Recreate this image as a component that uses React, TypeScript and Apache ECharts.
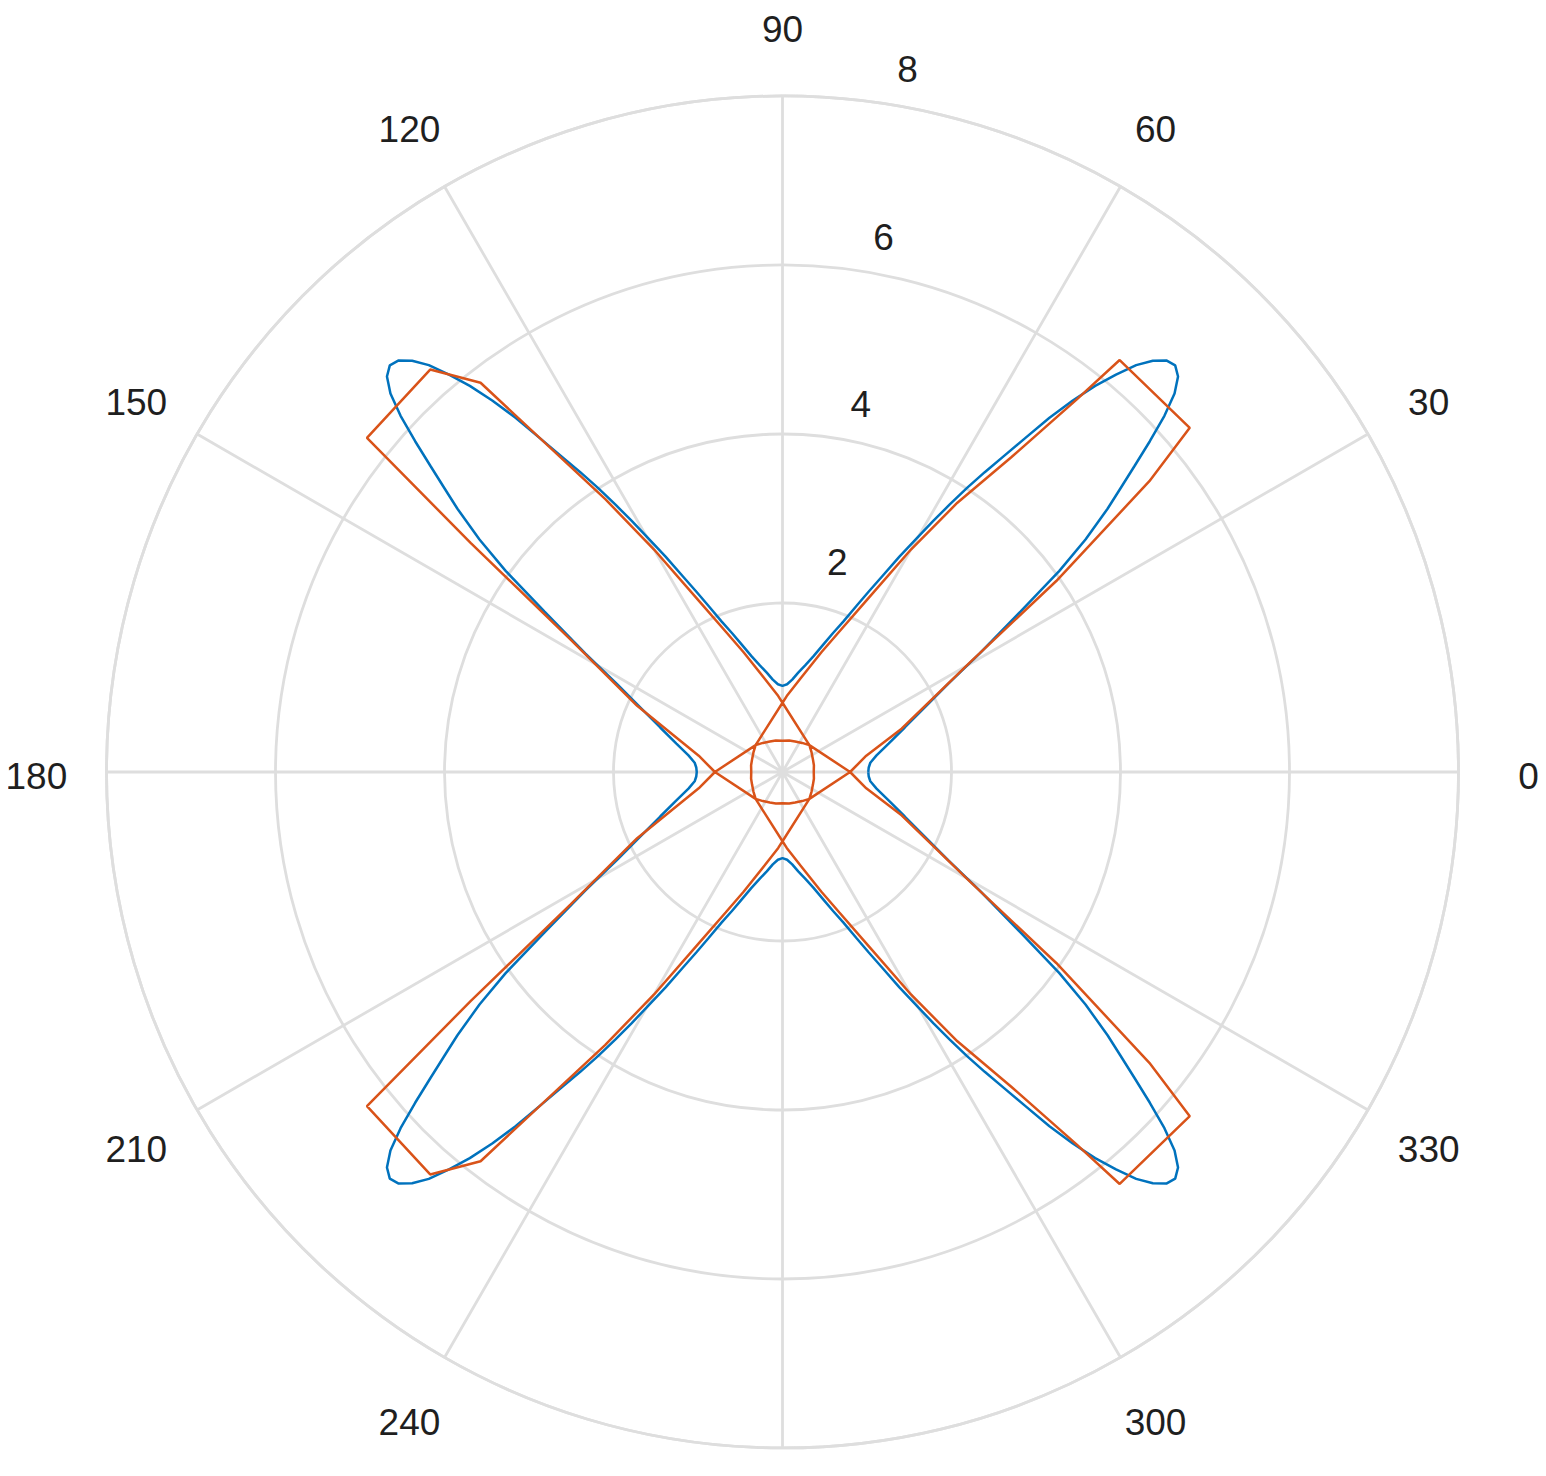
import React, { useEffect, useRef } from "react";
import * as echarts from "echarts";

// ---------- data ----------
const angleTicks = [0, 30, 60, 90, 120, 150, 180, 210, 240, 270, 300, 330];
// angle labels visible in the reference (270 lies below the picture)
const angleLabelValues = [0, 30, 60, 90, 120, 150, 180, 210, 240, 300, 330];
const angleLabelTexts = ["0", "30", "60", "90", "120", "150", "180", "210", "240", "300", "330"];
const radiusTicks = [2, 4, 6, 8];
const radiusTickLabels = ["2", "4", "6", "8"];

// blue curve: angle (deg) and radius
const blueAngle = [
  0, 3, 6, 10, 15, 20, 25, 28, 31, 34, 36, 37.5, 39, 40, 41, 42, 43, 44, 45, 46, 47, 48, 49, 50, 51, 52, 53, 54, 55, 56, 57, 58, 59, 60, 61.5, 63, 64.5, 66, 68, 70, 72, 75, 78, 81, 84, 87,
  90, 93, 96, 99, 102, 105, 108, 110, 112, 114, 115.5, 117, 118.5, 120, 121, 122, 123, 124, 125, 126, 127, 128, 129, 130, 131, 132, 133, 134, 135, 136, 137, 138, 139, 140, 141, 142.5, 144, 146, 149, 152, 155, 160, 165, 170, 174, 177,
  180, 183, 186, 190, 195, 200, 205, 208, 211, 214, 216, 217.5, 219, 220, 221, 222, 223, 224, 225, 226, 227, 228, 229, 230, 231, 232, 233, 234, 235, 236, 237, 238, 239, 240, 241.5, 243, 244.5, 246, 248, 250, 252, 255, 258, 261, 264, 267,
  270, 273, 276, 279, 282, 285, 288, 290, 292, 294, 295.5, 297, 298.5, 300, 301, 302, 303, 304, 305, 306, 307, 308, 309, 310, 311, 312, 313, 314, 315, 316, 317, 318, 319, 320, 321, 322.5, 324, 326, 329, 332, 335, 340, 345, 350, 354, 357,
  360,
];
const blueRadius = [
  1.015, 1.022, 1.045, 1.13, 1.3, 1.54, 1.9, 2.22, 2.72, 3.4, 4.05, 4.52, 4.95, 5.22, 5.52, 5.85, 6.18, 6.45, 6.62, 6.69, 6.66, 6.55, 6.38, 6.14, 5.88, 5.58, 5.25, 4.88, 4.56, 4.28, 4.01, 3.73, 3.47, 3.22, 2.9, 2.6, 2.36, 2.15, 1.92, 1.75, 1.6, 1.42, 1.29, 1.19, 1.1, 1.04,
  1.02, 1.04, 1.1, 1.19, 1.29, 1.42, 1.6, 1.75, 1.92, 2.15, 2.36, 2.6, 2.9, 3.22, 3.47, 3.73, 4.01, 4.28, 4.56, 4.88, 5.25, 5.58, 5.88, 6.14, 6.38, 6.55, 6.66, 6.69, 6.62, 6.45, 6.18, 5.85, 5.52, 5.22, 4.95, 4.52, 4.05, 3.4, 2.72, 2.22, 1.9, 1.54, 1.3, 1.13, 1.045, 1.022,
  1.015, 1.022, 1.045, 1.13, 1.3, 1.54, 1.9, 2.22, 2.72, 3.4, 4.05, 4.52, 4.95, 5.22, 5.52, 5.85, 6.18, 6.45, 6.62, 6.69, 6.66, 6.55, 6.38, 6.14, 5.88, 5.58, 5.25, 4.88, 4.56, 4.28, 4.01, 3.73, 3.47, 3.22, 2.9, 2.6, 2.36, 2.15, 1.92, 1.75, 1.6, 1.42, 1.29, 1.19, 1.1, 1.04,
  1.02, 1.04, 1.1, 1.19, 1.29, 1.42, 1.6, 1.75, 1.92, 2.15, 2.36, 2.6, 2.9, 3.22, 3.47, 3.73, 4.01, 4.28, 4.56, 4.88, 5.25, 5.58, 5.88, 6.14, 6.38, 6.55, 6.66, 6.69, 6.62, 6.45, 6.18, 5.85, 5.52, 5.22, 4.95, 4.52, 4.05, 3.4, 2.72, 2.22, 1.9, 1.54, 1.3, 1.13, 1.045, 1.022,
  1.015,
];

// red curve: [angle (deg), radius] in drawing order
const redPath: [number, number][] = [
  [0, 0.8], [11, 1.01], [20, 1.5], [30.3, 2.57], [34.9, 3.95], [38.4, 5.54], [40.2, 6.31], [50.7, 6.3], [51.7, 5.62], [54, 4.6], [57, 3.8], [60, 3.04], [64, 2.25], [68, 1.79], [72, 1.49], [79.3, 1.12], [86.8, 0.9], [90, 0.82],
  [135, 0.45],
  [146, 0.415], [157.5, 0.39], [168, 0.38], [180, 0.37], [192, 0.38], [202.5, 0.39], [214, 0.415], [225, 0.45],
  [270, 0.82],
  [273.2, 0.9], [280.7, 1.12], [288, 1.49], [292, 1.79], [296, 2.25], [300, 3.04], [303, 3.8], [306, 4.6], [308.3, 5.62], [309.3, 6.3], [319.8, 6.31], [321.6, 5.54], [325.1, 3.95], [329.7, 2.57], [340, 1.5], [349, 1.01], [360, 0.8],
  [45, 0.45],
  [56, 0.415], [67.5, 0.39], [78, 0.38], [90, 0.37], [102, 0.38], [112.5, 0.39], [124, 0.415], [135, 0.45],
  [180, 0.8],
  [191, 1.01], [204.5, 1.89], [212, 2.96], [216.3, 4.58], [218.8, 6.31], [228.8, 6.33], [232.2, 5.83], [237, 3.85], [240, 3.04], [244, 2.25], [248, 1.79], [252, 1.49], [259.3, 1.12], [266.8, 0.9], [270, 0.82],
  [315, 0.45],
  [326, 0.415], [337.5, 0.39], [348, 0.38], [360, 0.37], [12, 0.38], [22.5, 0.39], [34, 0.415], [45, 0.45],
  [90, 0.82],
  [93.2, 0.9], [100.7, 1.12], [108, 1.49], [112, 1.79], [116, 2.25], [120, 3.04], [123, 3.85], [127.8, 5.83], [131.2, 6.33], [141.2, 6.31], [143.7, 4.58], [148, 2.96], [155.5, 1.89], [169, 1.01], [180, 0.8],
  [225, 0.45],
  [236, 0.415], [247.5, 0.39], [258, 0.38], [270, 0.37], [282, 0.38], [292.5, 0.39], [304, 0.415], [315, 0.45],
  [360, 0.8],
];

// ---------- layout ----------
const CENTER = [782.5, 772];
const OUTER_RADIUS = 676;
const ANGLE_LABEL_RADIUS = 8.83;
const RADIUS_LABEL_POS: [number, number][] = [
  [2.56, 75.3],
  [4.45, 78.0],
  [6.44, 79.3],
  [8.44, 79.9],
];
const GRID_COLOR = "#dedede";
const TEXT_COLOR = "#1f1f1f";
const FONT = "'Liberation Sans', Arial, Helvetica, sans-serif";
const FONT_SIZE = 37;

export default function App() {
  const ref = useRef<HTMLDivElement>(null);

  useEffect(() => {
    if (!ref.current) return;
    const chart = echarts.init(ref.current, null, { renderer: "svg" });

    const labelStyle = {
      show: true,
      position: "inside",
      formatter: "{b}",
      color: TEXT_COLOR,
      fontSize: FONT_SIZE,
      fontFamily: FONT,
      textBorderWidth: 0,
      opacity: 1,
    };

    chart.setOption({
      animation: false,
      backgroundColor: "#ffffff",
      polar: { center: CENTER, radius: OUTER_RADIUS },
      angleAxis: {
        type: "value",
        min: 0,
        max: 360,
        interval: 30,
        startAngle: 0,
        clockwise: false,
        axisLine: { show: true, lineStyle: { color: GRID_COLOR, width: 2.8 } },
        axisTick: { show: false },
        axisLabel: { show: false },
        splitLine: { show: true, lineStyle: { color: GRID_COLOR, width: 2.8 } },
      },
      radiusAxis: {
        type: "value",
        min: 0,
        max: 8,
        interval: 2,
        axisLine: { show: false },
        axisTick: { show: false },
        axisLabel: { show: false },
        splitLine: { show: true, lineStyle: { color: GRID_COLOR, width: 2.8 } },
      },
      series: [
        {
          type: "line",
          coordinateSystem: "polar",
          showSymbol: false,
          symbol: "none",
          lineStyle: { color: "#0072BD", width: 2.5 },
          data: blueAngle.map((a, i) => [blueRadius[i], a]),
          z: 3,
        },
        {
          type: "line",
          coordinateSystem: "polar",
          showSymbol: false,
          symbol: "none",
          lineStyle: { color: "#D95319", width: 2.5 },
          data: redPath.map(([a, r]) => [r, a]),
          z: 4,
        },
        {
          type: "scatter",
          coordinateSystem: "polar",
          clip: false,
          silent: true,
          symbolSize: 1,
          itemStyle: { color: "rgba(255,255,255,0)" },
          label: { ...labelStyle, offset: [0, 4] },
          data: angleLabelValues.map((a, i) => ({ value: [ANGLE_LABEL_RADIUS, a], name: angleLabelTexts[i] })),
          z: 5,
        },
        {
          type: "scatter",
          coordinateSystem: "polar",
          clip: false,
          silent: true,
          symbolSize: 1,
          itemStyle: { color: "rgba(255,255,255,0)" },
          label: labelStyle,
          data: radiusTicks.map((t, i) => ({ value: RADIUS_LABEL_POS[i], name: radiusTickLabels[i] })),
          z: 5,
        },
      ],
    });

    return () => chart.dispose();
  }, []);

  return <div ref={ref} style={{ width: 1546, height: 1476, margin: -8 }} />;
}
